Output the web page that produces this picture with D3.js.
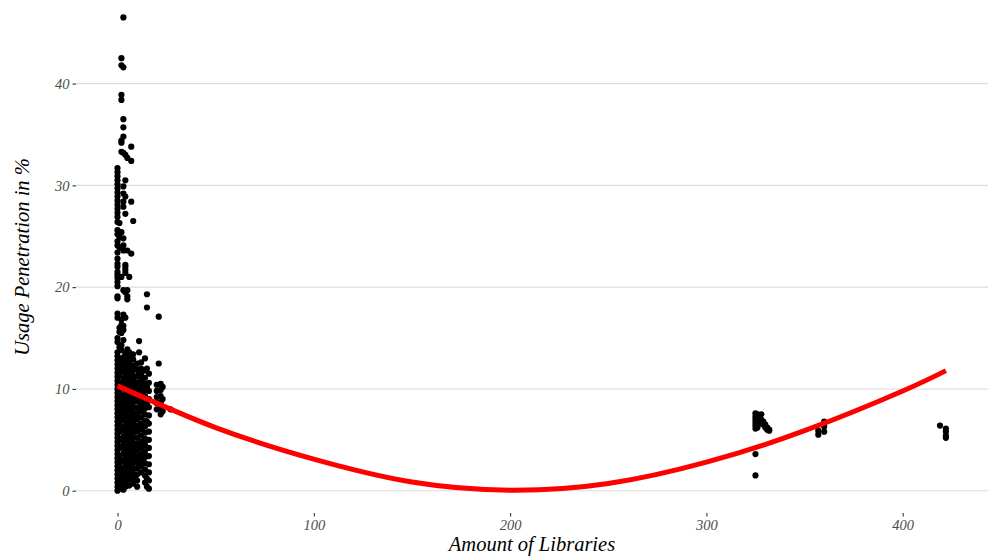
<!DOCTYPE html>
<html>
<head>
<meta charset="utf-8">
<script src="https://cdn.jsdelivr.net/npm/d3@7"></script>
<style>
  html, body { margin: 0; padding: 0; background: #ffffff; }
  svg { display: block; }
  .tick text { font-family: "Liberation Serif", serif; font-style: italic; }
</style>
</head>
<body>
<svg id="chart" width="992" height="558"></svg>
<script>
// ---- Data: usage penetration (%) grouped by amount of libraries ----
const usageAt0 = [31.7, 31.3, 30.9, 30.5, 30.1, 29.7, 29.3, 28.9, 28.5, 28.1, 27.7, 27.3, 26.9, 26.4, 25.6, 25.2, 24.5, 24.1, 23.4, 22.8, 22.3, 22.0, 21.5, 21.2, 20.9, 20.5, 20.1, 19.1, 18.9, 17.4, 17.0, 15.0, 14.6, 13.6, 13.2, 12.8, 12.4, 12.0, 11.6, 11.2, 10.8, 10.4, 10.0, 9.6, 9.2, 8.8, 8.4, 8.0, 7.6, 7.2, 6.8, 6.4, 6.0, 5.6, 5.2, 4.8, 4.4, 4.0, 3.6, 3.2, 2.8, 2.4, 2.0, 1.6, 1.2, 0.8, 0.4, 0.0];
const usageAt1 = [26.3, 24.9, 23.9, 16.0, 15.6, 14.1, 13.0, 12.1, 11.3, 10.6, 9.7, 8.9, 8.1, 7.3, 6.5, 5.8, 5.0, 4.2, 3.4, 2.6, 1.8, 1.0, 0.2];
const usageAt2 = [42.5, 41.8, 38.9, 38.4, 34.4, 34.2, 33.3, 25.4, 21.0, 16.8, 16.3, 15.5, 14.3, 13.8, 12.6, 11.7, 10.5, 9.4, 8.6, 7.7, 6.9, 5.9, 5.1, 4.3, 3.0, 2.2, 1.4, 0.5];
const usageAt3 = [46.5, 41.6, 36.5, 35.7, 34.8, 33.2, 29.9, 29.2, 28.4, 27.9, 24.8, 24.1, 23.6, 19.7, 17.3, 16.2, 15.8, 14.8, 13.1, 12.2, 11.0, 10.1, 9.0, 8.2, 7.0, 6.2, 5.3, 4.6, 3.7, 2.9, 1.9, 1.0, 0.1];
const usageAt4 = [33.0, 30.5, 28.9, 27.2, 22.2, 22.0, 21.7, 21.4, 19.5, 17.0, 13.5, 12.9, 12.4, 11.9, 11.4, 10.9, 10.4, 9.9, 9.4, 8.9, 8.4, 7.9, 7.4, 6.9, 6.4, 5.9, 5.4, 4.9, 4.4, 3.9, 3.4, 2.9, 2.4, 1.9, 1.4, 0.9, 0.4];
const usageAt5 = [32.7, 23.6, 19.7, 19.1, 18.8, 13.9, 12.6, 11.4, 10.2, 9.1, 7.8, 6.7, 5.5, 4.3, 3.1, 2.0, 0.6];
const usageAt6 = [21.0, 13.6, 13.1, 12.6, 12.1, 11.6, 11.1, 10.6, 10.1, 9.6, 9.1, 8.6, 8.1, 7.6, 7.1, 6.6, 6.1, 5.6, 5.1, 4.6, 4.1, 3.6, 3.1, 2.6, 2.1, 1.6, 1.1, 0.5];
const usageAt7 = [33.8, 32.4, 28.4, 23.3, 13.3, 11.8, 10.4, 8.8, 7.3, 5.8, 4.2, 2.8, 1.3];
const usageAt8 = [26.5, 13.4, 12.9, 12.3, 11.8, 11.3, 10.8, 10.3, 9.8, 9.2, 8.7, 8.2, 7.7, 7.2, 6.7, 6.2, 5.7, 5.2, 4.7, 4.2, 3.7, 3.2, 2.7, 2.2, 1.7, 1.2, 0.7];
const usageAt9 = [12.0, 10.5, 8.9, 7.4, 5.9, 4.4, 2.9, 1.4];
const usageAt10 = [12.5, 11.9, 11.2, 10.6, 10.0, 9.4, 8.8, 8.2, 7.6, 7.0, 6.4, 5.8, 5.2, 4.6, 4.0, 3.4, 2.8, 2.2, 1.6, 1.0, 0.4];
const usageAt11 = [14.7, 13.6, 11.5, 9.7, 8.0, 6.1, 4.3, 2.5];
const usageAt12 = [12.6, 12.0, 11.4, 10.8, 10.2, 9.6, 9.0, 8.4, 7.8, 7.2, 6.6, 6.0, 5.4, 4.8, 4.2, 3.6, 3.0, 2.4, 1.8];
const usageAt13 = [11.0, 9.5, 7.9, 6.3, 4.7, 3.2];
const usageAt14 = [13.0, 11.8, 11.1, 10.5, 9.9, 9.3, 8.7, 8.1, 7.5, 6.9, 6.3, 5.7, 5.1, 4.5, 3.9, 3.3, 2.7, 2.1, 1.5, 0.8];
const usageAt15 = [19.3, 18.0, 12.0, 10.2, 8.5, 6.8, 5.0, 3.4, 1.2, 0.4];
const usageAt16 = [11.5, 10.6, 9.8, 9.0, 8.2, 7.4, 6.6, 5.8, 5.0, 4.2, 3.4, 2.6, 1.8, 1.0, 0.2];
const usageAt20 = [10.4, 9.8, 9.2, 8.6, 8.0];
const usageAt21 = [17.1, 12.5];
const usageAt22 = [10.5, 9.9, 9.3, 8.7, 8.1, 7.5];
const usageAt23 = [10.2, 9.0, 7.8];
const usageAt27 = [8.0];
const usageAt325 = [7.6, 7.3, 7.0, 6.7, 6.4, 6.1, 3.6, 1.5];
const usageAt326 = [7.5, 6.8, 6.2];
const usageAt327 = [7.4, 6.9];
const usageAt328 = [7.5, 7.0, 6.6];
const usageAt329 = [6.8, 6.5];
const usageAt330 = [6.5, 6.2];
const usageAt331 = [6.2, 6.0];
const usageAt332 = [6.0, 5.9];
const usageAt357 = [5.5, 5.9];
const usageAt360 = [5.8, 6.3, 6.8];
const usageAt419 = [6.4];
const usageAt422 = [6.1, 5.8, 5.4, 5.2];

const libraryCounts = [0, 1, 2, 3, 4, 5, 6, 7, 8, 9, 10, 11, 12, 13, 14, 15, 16, 20, 21, 22, 23, 27,
                       325, 326, 327, 328, 329, 330, 331, 332, 357, 360, 419, 422];
const usageColumns = [usageAt0, usageAt1, usageAt2, usageAt3, usageAt4, usageAt5, usageAt6, usageAt7,
                      usageAt8, usageAt9, usageAt10, usageAt11, usageAt12, usageAt13, usageAt14, usageAt15,
                      usageAt16, usageAt20, usageAt21, usageAt22, usageAt23, usageAt27,
                      usageAt325, usageAt326, usageAt327, usageAt328, usageAt329, usageAt330, usageAt331,
                      usageAt332, usageAt357, usageAt360, usageAt419, usageAt422];

// Fitted trend
const trendX = [0, 50, 100, 150, 200, 250, 300, 350, 400, 422];
const trendY = [10.3, 6.2, 3.1, 0.85, 0.05, 0.7, 2.8, 5.9, 9.8, 11.8];

const xTicks = [0, 100, 200, 300, 400];
const yTicks = [0, 10, 20, 30, 40];

// ---- Chart ----
const svg = d3.select("#chart");
const panel = { left: 76, right: 988, top: 0, bottom: 513 };

const x = d3.scaleLinear().domain([0, 400]).range([117.5, 902.7]);
const y = d3.scaleLinear().domain([0, 40]).range([490.7, 83.6]);

// gridlines (horizontal major only)
svg.append("g")
  .selectAll("line")
  .data(yTicks)
  .join("line")
  .attr("x1", panel.left).attr("x2", panel.right)
  .attr("y1", d => y(d)).attr("y2", d => y(d))
  .attr("stroke", "#dcdcdc").attr("stroke-width", 1.1);

// axes
const yAxis = svg.append("g")
  .attr("transform", `translate(${panel.left},0)`)
  .call(d3.axisLeft(y).tickValues(yTicks).tickSize(3.5).tickPadding(3).tickFormat(d3.format("d")));
const xAxis = svg.append("g")
  .attr("transform", `translate(0,${panel.bottom})`)
  .call(d3.axisBottom(x).tickValues(xTicks).tickSize(3.5).tickPadding(3).tickFormat(d3.format("d")));
[yAxis, xAxis].forEach(a => {
  a.select(".domain").remove();
  a.selectAll(".tick line").attr("stroke", "#333333").attr("stroke-width", 1.1);
  a.selectAll(".tick text").attr("fill", "#4d4d4d").style("font-size", "14.5px");
});

// points
const points = [];
libraryCounts.forEach((c, i) => usageColumns[i].forEach(v => points.push([c, v])));
svg.append("g")
  .selectAll("circle")
  .data(points)
  .join("circle")
  .attr("cx", d => x(d[0]))
  .attr("cy", d => y(d[1]))
  .attr("r", 3.1)
  .attr("fill", "#000000");

// trend line
const line = d3.line().x((d, i) => x(trendX[i])).y(d => y(d)).curve(d3.curveNatural);
svg.append("path")
  .datum(trendY)
  .attr("d", line)
  .attr("fill", "none")
  .attr("stroke", "#ff0000")
  .attr("stroke-width", 5)
  .attr("stroke-linecap", "butt");

// axis titles
svg.append("text")
  .attr("x", (panel.left + panel.right) / 2)
  .attr("y", 551)
  .attr("text-anchor", "middle")
  .style("font-family", "'Liberation Serif', serif")
  .style("font-style", "italic")
  .style("font-size", "20.5px")
  .attr("fill", "#000000")
  .text("Amount of Libraries");

svg.append("text")
  .attr("transform", `translate(29,${257}) rotate(-90)`)
  .attr("text-anchor", "middle")
  .style("font-family", "'Liberation Serif', serif")
  .style("font-style", "italic")
  .style("font-size", "20.5px")
  .attr("fill", "#000000")
  .text("Usage Penetration in %");
</script>
</body>
</html>
